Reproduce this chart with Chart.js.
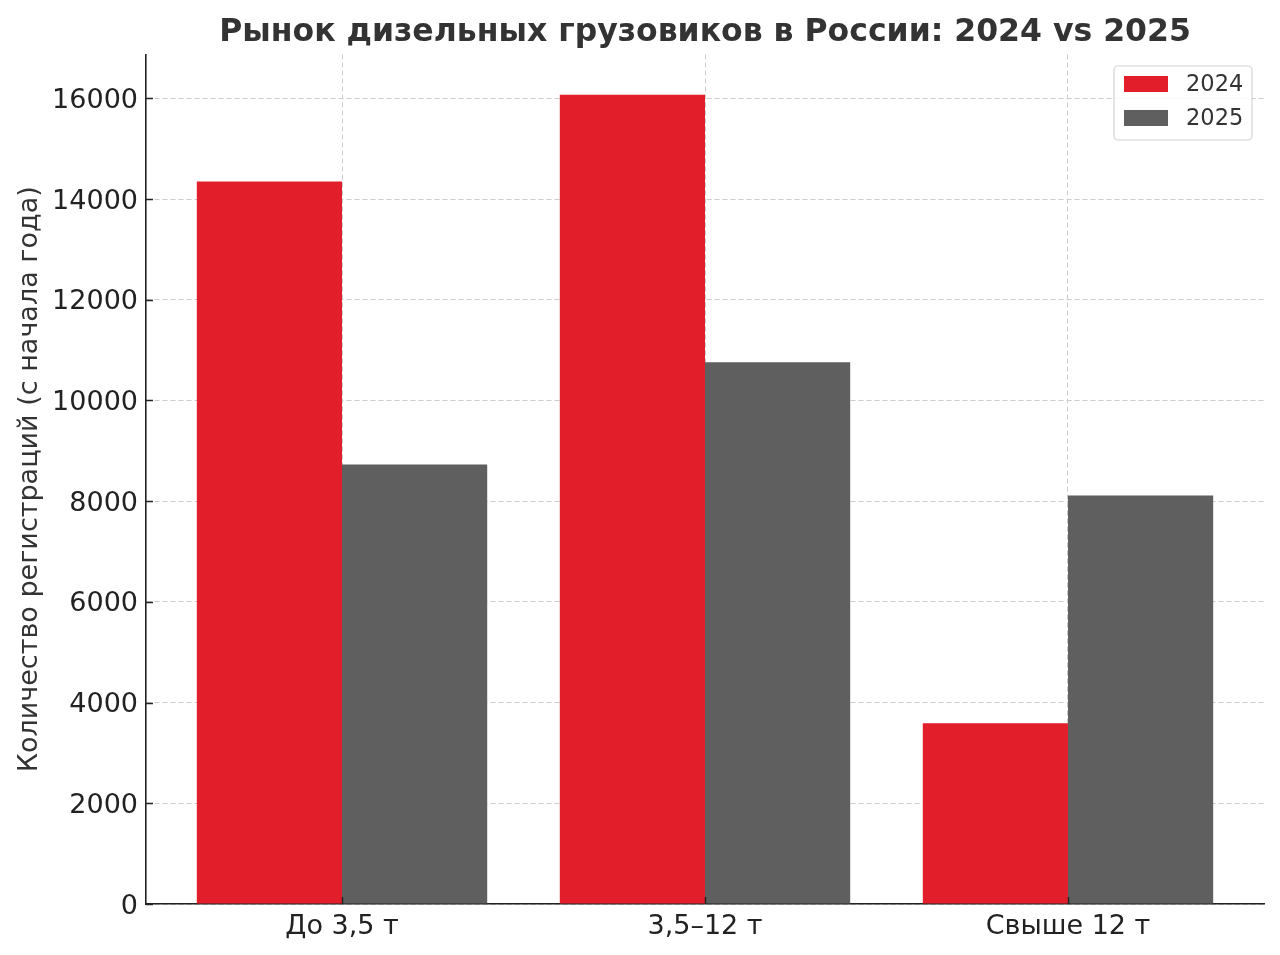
<!DOCTYPE html>
<html>
<head>
<meta charset="utf-8">
<script src="https://cdn.jsdelivr.net/npm/chart.js@4.4.1/dist/chart.umd.min.js"></script>
<style>
  html, body { margin: 0; padding: 0; background: #ffffff; }
  #wrap { width: 1280px; height: 955px; position: relative; }
</style>
</head>
<body>
<div id="wrap"><canvas id="c" width="1280" height="955"></canvas></div>
<script>
const chartTitle = 'Рынок дизельных грузовиков в России: 2024 vs 2025';
const yAxisTitle = 'Количество регистраций (с начала года)';
const categories = ['До 3,5 т', '3,5–12 т', 'Свыше 12 т'];
const seriesLabels = ['2024', '2025'];
const values2024 = [14350, 16070, 3590];
const values2025 = [8730, 10760, 8110];
const yTicks = [0, 2000, 4000, 6000, 8000, 10000, 12000, 14000, 16000];
const yMax = 16870;

const RED = '#e31e2b';
const GRAY = '#5f5f5f';
const FONT = '"DejaVu Sans", "Liberation Sans", sans-serif';

const titlePlugin = {
  id: 'customTitle',
  afterDraw(chart) {
    const ctx = chart.ctx, a = chart.chartArea;
    ctx.save();
    ctx.font = 'bold 31.5px ' + FONT;
    ctx.fillStyle = '#333333';
    ctx.textAlign = 'center';
    ctx.textBaseline = 'alphabetic';
    ctx.fillText(chartTitle, (a.left + a.right) / 2, 41);
    ctx.restore();
  }
};

const inTicksPlugin = {
  id: 'inTicks',
  afterDatasetsDraw(chart) {
    const ctx = chart.ctx, a = chart.chartArea;
    const xs = chart.scales.x, ys = chart.scales.y;
    ctx.save();
    ctx.strokeStyle = '#222222';
    ctx.lineWidth = 1.4;
    ctx.beginPath();
    ys.ticks.forEach(t => {
      const y = Math.round(ys.getPixelForValue(t.value)) + 0.5;
      ctx.moveTo(a.left, y); ctx.lineTo(a.left + 7, y);
    });
    xs.ticks.forEach(t => {
      const x = Math.round(xs.getPixelForValue(t.value)) + 0.5;
      ctx.moveTo(x, a.bottom); ctx.lineTo(x, a.bottom - 7);
    });
    ctx.stroke();
    ctx.restore();
  }
};

const legendPlugin = {
  id: 'boxLegend',
  afterDraw(chart) {
    const ctx = chart.ctx, a = chart.chartArea;
    const w = 138, h = 74;
    const x0 = a.right - 12 - w, y0 = a.top + 11.5;
    ctx.save();
    ctx.beginPath();
    const r = 4;
    ctx.moveTo(x0 + r, y0);
    ctx.arcTo(x0 + w, y0, x0 + w, y0 + h, r);
    ctx.arcTo(x0 + w, y0 + h, x0, y0 + h, r);
    ctx.arcTo(x0, y0 + h, x0, y0, r);
    ctx.arcTo(x0, y0, x0 + w, y0, r);
    ctx.closePath();
    ctx.fillStyle = 'rgba(255,255,255,0.85)';
    ctx.fill();
    ctx.strokeStyle = '#d3d3d3';
    ctx.lineWidth = 1.2;
    ctx.stroke();
    ctx.font = '22.5px ' + FONT;
    ctx.textAlign = 'left';
    ctx.textBaseline = 'middle';
    chart.data.datasets.forEach((ds, i) => {
      const cy = y0 + 18 + i * 34;
      ctx.fillStyle = ds.backgroundColor;
      ctx.fillRect(x0 + 10, cy - 8, 44, 16);
      ctx.fillStyle = '#333333';
      ctx.fillText(ds.label, x0 + 72, cy + 1);
    });
    ctx.restore();
  }
};

new Chart(document.getElementById('c'), {
  type: 'bar',
  data: {
    datasets: [
      { label: seriesLabels[0], data: values2024.map((v, i) => ({ x: i, y: v })), backgroundColor: RED, borderWidth: 0 },
      { label: seriesLabels[1], data: values2025.map((v, i) => ({ x: i, y: v })), backgroundColor: GRAY, borderWidth: 0 }
    ]
  },
  options: {
    responsive: false,
    animation: false,
    devicePixelRatio: 1,
    categoryPercentage: 0.8,
    barPercentage: 1.0,
    layout: { padding: { top: 54.5, right: 16, bottom: 0, left: 0 } },
    plugins: {
      legend: { display: false },
      title: { display: false },
      tooltip: { enabled: false }
    },
    scales: {
      x: {
        type: 'linear',
        min: -0.54,
        max: 2.54,
        offset: false,
        afterBuildTicks: s => { s.ticks = categories.map((c, i) => ({ value: i })); },
        afterFit: s => { s.height = 51; },
        ticks: {
          font: { family: FONT, size: 27 },
          color: '#222222',
          padding: 7,
          autoSkip: false,
          maxRotation: 0,
          callback: v => categories[v]
        },
        grid: { offset: false, color: '#cccccc', lineWidth: 1, drawTicks: false },
        border: { display: true, color: '#222222', width: 1.6, dash: [5, 3] }
      },
      y: {
        min: 0,
        max: yMax,
        afterBuildTicks: s => { s.ticks = yTicks.map(v => ({ value: v })); },
        afterFit: s => { s.width = 146; },
        ticks: {
          font: { family: FONT, size: 27 },
          color: '#222222',
          padding: 8,
          labelOffset: 2.5,
          callback: v => String(v)
        },
        grid: { color: '#cccccc', lineWidth: 1, drawTicks: false },
        border: { display: true, color: '#222222', width: 1.6, dash: [5, 3] },
        title: {
          display: true,
          text: yAxisTitle,
          font: { family: FONT, size: 27 },
          color: '#333333',
          padding: { top: 14, bottom: 0 }
        }
      }
    }
  },
  plugins: [titlePlugin, inTicksPlugin, legendPlugin]
});
</script>
</body>
</html>
